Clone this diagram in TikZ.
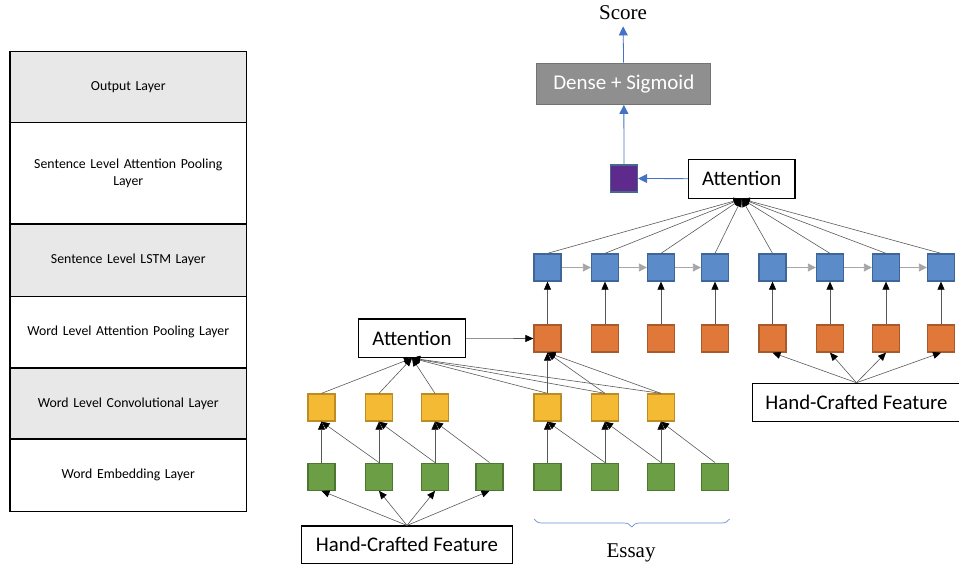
\documentclass[tikz,border=0pt]{standalone}
\usepackage{fontspec}
\setmainfont{Carlito}
\newfontfamily\serifa{Liberation Serif}
\usetikzlibrary{arrows.meta,decorations.pathreplacing}

\definecolor{azul}{HTML}{5B8BC8}
\definecolor{bordeazul}{HTML}{3E6698}
\definecolor{naranja}{HTML}{DF7839}
\definecolor{bordenaranja}{HTML}{A95A2A}
\definecolor{amarillo}{HTML}{F4BA33}
\definecolor{bordeamarillo}{HTML}{BD8C22}
\definecolor{verde}{HTML}{6C9F45}
\definecolor{bordeverde}{HTML}{4D7631}
\definecolor{morado}{HTML}{5E2A8B}
\definecolor{bordemorado}{HTML}{466A8E}
\definecolor{azulflecha}{HTML}{4472C4}
\definecolor{grisclaro}{HTML}{E8E8E8}

\tikzset{
  cuad/.style={draw, line width=1.3pt, minimum size=27pt, inner sep=0pt},
  caja/.style={draw, line width=1.2pt, fill=white, font=\fontsize{20.8}{24}\selectfont},
  capa/.style={draw, line width=1.2pt, minimum width=236.5pt, text width=225pt,
    align=center, font=\fontsize{13.8}{17}\selectfont},
  flecha/.style={draw=black!65, line width=0.6pt, -{Triangle[length=8pt,width=7pt,black]}},
  flechagris/.style={draw=black!35, line width=0.8pt, -{Triangle[length=8pt,width=8pt]}},
  flechaazul/.style={draw=azulflecha, line width=0.8pt, -{Triangle[length=9pt,width=9pt]}}
}

\begin{document}
\begin{tikzpicture}[x=1pt, y=-1pt]
  \useasboundingbox (0,0) rectangle (959,564);
  % la tabla de capas
  \node[capa, fill=grisclaro, minimum height=71pt] (capa1) at (128.25,87) {Output Layer};
  \node[capa, fill=white, minimum height=101.5pt] (capa2) at (128.25,173.25) {Sentence Level Attention Pooling\\Layer};
  \node[capa, fill=grisclaro, minimum height=72.5pt] (capa3) at (128.25,260.25) {Sentence Level LSTM Layer};
  \node[capa, fill=white, minimum height=71.5pt] (capa4) at (128.25,332.25) {Word Level Attention Pooling Layer};
  \node[capa, fill=grisclaro, minimum height=71pt] (capa5) at (128.25,403.5) {Word Level Convolutional Layer};
  \node[capa, fill=white, minimum height=72.5pt] (capa6) at (128.25,475.25) {Word Embedding Layer};

  % nivel de frases
  \foreach \x [count=\i] in {547.5,605,661,715,772.5,830,886,941} {
    \node[cuad, fill=azul, draw=bordeazul] (b\i) at (\x,267.5) {};
    \node[cuad, fill=naranja, draw=bordenaranja] (n\i) at (\x,338.5) {};
    \draw[flecha] (n\i) -- (b\i);
  }
  \foreach \i/\j in {1/2,2/3,3/4,5/6,6/7,7/8} { \draw[flechagris] (b\i) -- (b\j); }

  % nivel de palabras
  \foreach \x [count=\i] in {321.5,379,435,547.5,605,661} {
    \node[cuad, fill=amarillo, draw=bordeamarillo] (a\i) at (\x,407.5) {};
  }
  \foreach \x [count=\i] in {321.5,379,435,489.5,547.5,605,661,715} {
    \node[cuad, fill=verde, draw=bordeverde] (v\i) at (\x,476.7) {};
  }
  \foreach \i/\j/\k in {1/1/2,2/2/3,3/3/4,4/5/6,5/6/7,6/7/8} {
    \draw[flecha] (v\j.north) -- (a\i.south);
    \draw[flecha] (v\k.north) -- (a\i.south);
  }

  % las atenciones
  \node[caja, minimum width=107pt, minimum height=38.5pt] (att1) at (412,338.3) {Attention};
  \node[caja, minimum width=106.5pt, minimum height=39pt] (att2) at (741.7,178.8) {Attention};
  \foreach \i in {1,...,6} { \draw[flecha] (a\i.north) -- (att1.south); }
  \foreach \i in {4,5,6} { \draw[flecha] (a\i.north) -- (n1.south); }
  \draw[flecha] (att1) -- (n1);
  \foreach \i in {1,...,8} { \draw[flecha] (b\i.north) -- (att2.south); }

  % rasgos manuales
  \node[caja, minimum width=210.5pt, minimum height=37.3pt] (hcf1) at (407,544.7) {Hand-Crafted Feature};
  \node[caja, minimum width=207.5pt, minimum height=38.3pt] (hcf2) at (856.5,402.5) {Hand-Crafted Feature};
  \foreach \i in {1,...,4} { \draw[flecha] (hcf1.north) -- (v\i.south); }
  \foreach \i in {5,...,8} { \draw[flecha] (hcf2.north) -- (n\i.south); }

  % la salida
  \node[cuad, fill=morado, draw=bordemorado] (pool) at (624,178.5) {};
  \node[draw=black!55, line width=1.2pt, fill=black!44, text=white, minimum width=174pt,
    minimum height=41pt, font=\fontsize{21}{24}\selectfont] (dense) at (623.8,83.8) {Dense + Sigmoid};
  \node[anchor=base, inner sep=0pt, font=\serifa\fontsize{21}{24}\selectfont] (score) at (623,20) {Score};
  \draw[flechaazul] (att2) -- (pool);
  \draw[flechaazul] (pool) -- (dense);
  \draw[flechaazul, shorten >=6pt] (dense) -- (score);

  % el ensayo
  \draw[azulflecha!80, line width=0.7pt, decorate, decoration={brace, mirror, amplitude=8pt}]
    (534,519) -- (729.5,519);
  \node[anchor=base, inner sep=0pt, font=\serifa\fontsize{21}{24}\selectfont] (essay) at (631,557.5) {Essay};
\end{tikzpicture}
\end{document}
